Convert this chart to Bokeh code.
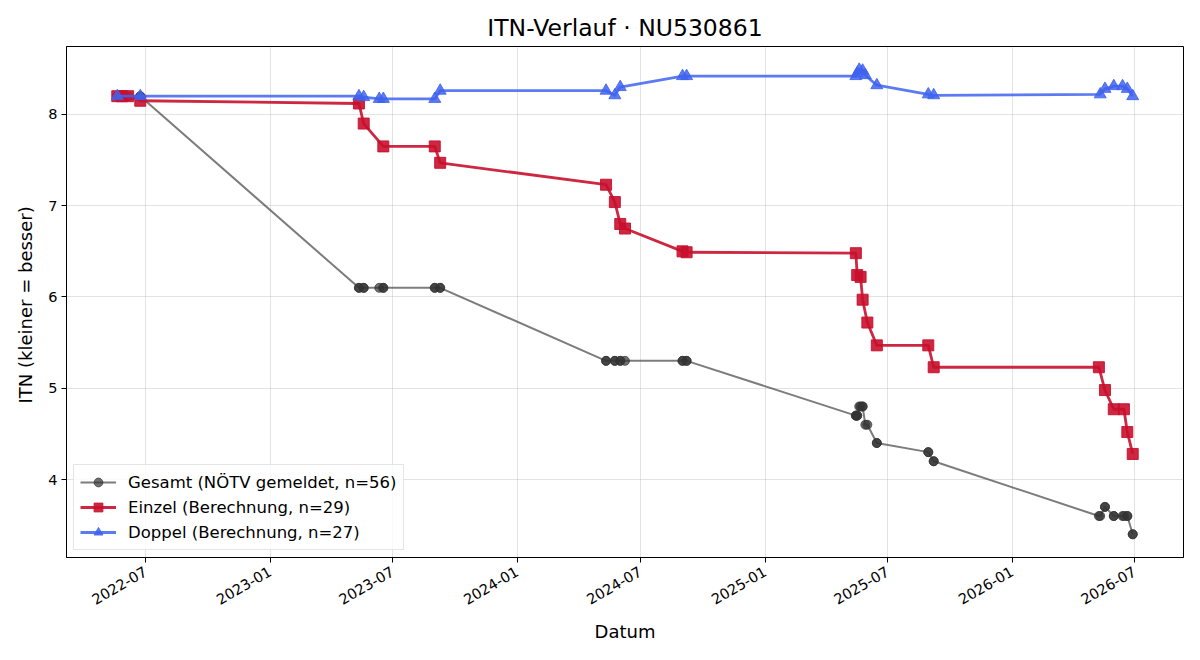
import numpy as np
import pandas as pd
from bokeh.plotting import figure
from bokeh.models import (Range1d, FixedTicker, Legend, LegendItem,
                          ColumnDataSource, DatetimeTickFormatter)
from bokeh.embed import file_html
from bokeh.resources import INLINE

# --- ITN history per match -------------------------------------------------
einzel_dates = [
    "2022-05-20", "2022-05-27", "2022-06-05", "2022-06-23",
    "2023-05-12", "2023-05-19", "2023-06-17", "2023-09-01", "2023-09-09",
    "2024-05-11", "2024-05-24", "2024-06-01", "2024-06-08", "2024-09-01", "2024-09-07",
    "2025-05-15", "2025-05-17", "2025-05-22", "2025-05-25", "2025-06-01",
    "2025-06-15", "2025-08-30", "2025-09-07",
    "2026-05-09", "2026-05-18", "2026-05-31", "2026-06-15", "2026-06-20", "2026-06-28",
]
einzel_itn = [
    8.20, 8.20, 8.20, 8.15,
    8.12, 7.90, 7.65, 7.65, 7.47,
    7.23, 7.04, 6.80, 6.75, 6.50, 6.49,
    6.48, 6.24, 6.22, 5.97, 5.72,
    5.47, 5.47, 5.23,
    5.23, 4.98, 4.77, 4.77, 4.52, 4.28,
]

doppel_dates = [
    "2022-05-20", "2022-06-23",
    "2023-05-12", "2023-05-19", "2023-06-11", "2023-06-17", "2023-09-01", "2023-09-09",
    "2024-05-11", "2024-05-24", "2024-06-01", "2024-09-01", "2024-09-07",
    "2025-05-15", "2025-05-17", "2025-05-20", "2025-05-25", "2025-05-29",
    "2025-06-15", "2025-08-30", "2025-09-07",
    "2026-05-11", "2026-05-18", "2026-05-31", "2026-06-13", "2026-06-20", "2026-06-28",
]
doppel_itn = [
    8.20, 8.20,
    8.20, 8.19, 8.17, 8.17, 8.17, 8.26,
    8.26, 8.21, 8.30, 8.42, 8.42,
    8.42, 8.45, 8.49, 8.48, 8.43,
    8.32, 8.22, 8.21,
    8.22, 8.28, 8.31, 8.31, 8.28, 8.20,
]

gesamt_dates = [
    "2022-05-20", "2022-05-20", "2022-05-27", "2022-06-05", "2022-06-23", "2022-06-23",
    "2023-05-12", "2023-05-12", "2023-05-19", "2023-05-19", "2023-06-11",
    "2023-06-17", "2023-06-17", "2023-09-01", "2023-09-01", "2023-09-09", "2023-09-09",
    "2024-05-11", "2024-05-11", "2024-05-24", "2024-05-24", "2024-06-01", "2024-06-01",
    "2024-06-08", "2024-09-01", "2024-09-01", "2024-09-07", "2024-09-07",
    "2025-05-15", "2025-05-15", "2025-05-17", "2025-05-17", "2025-05-20", "2025-05-22",
    "2025-05-25", "2025-05-25", "2025-05-29", "2025-06-01", "2025-06-15", "2025-06-15",
    "2025-08-30", "2025-08-30", "2025-09-07", "2025-09-07",
    "2026-05-09", "2026-05-11", "2026-05-18", "2026-05-18", "2026-05-31", "2026-05-31",
    "2026-06-13", "2026-06-15", "2026-06-20", "2026-06-20", "2026-06-28", "2026-06-28",
]
gesamt_itn = [
    8.2, 8.2, 8.2, 8.2, 8.2, 8.2,
    6.1, 6.1, 6.1, 6.1, 6.1,
    6.1, 6.1, 6.1, 6.1, 6.1, 6.1,
    5.3, 5.3, 5.3, 5.3, 5.3, 5.3,
    5.3, 5.3, 5.3, 5.3, 5.3,
    4.7, 4.7, 4.7, 4.7, 4.8, 4.8,
    4.8, 4.8, 4.6, 4.6, 4.4, 4.4,
    4.3, 4.3, 4.2, 4.2,
    3.6, 3.6, 3.7, 3.7, 3.6, 3.6,
    3.6, 3.6, 3.6, 3.6, 3.4, 3.4,
]

x_tick_labels = ["2022-07", "2023-01", "2023-07", "2024-01", "2024-07",
                 "2025-01", "2025-07", "2026-01", "2026-07"]
y_ticks = [4, 5, 6, 7, 8]

series_labels = ["Gesamt (NÖTV gemeldet, n=56)",
                 "Einzel (Berechnung, n=29)",
                 "Doppel (Berechnung, n=27)"]

FONT = "DejaVu Sans"
TICK = "14.5px"
LABEL = "18px"
LEGEND = "16.5px"

RED = "#c8102e"
BLUE = "#3f63ee"
GREY = "#444444"

g_src = ColumnDataSource(dict(x=pd.to_datetime(gesamt_dates), y=gesamt_itn))
e_src = ColumnDataSource(dict(x=pd.to_datetime(einzel_dates), y=einzel_itn))
d_src = ColumnDataSource(dict(x=pd.to_datetime(doppel_dates), y=doppel_itn))

# axis limits with 5 % padding around the data
all_x = pd.to_datetime(gesamt_dates + einzel_dates + doppel_dates)
all_y = np.array(gesamt_itn + einzel_itn + doppel_itn)
xmin, xmax = all_x.min(), all_x.max()
xpad = (xmax - xmin) * 0.05
ypad = (all_y.max() - all_y.min()) * 0.05

p = figure(width=1200, height=660, x_axis_type="datetime",
           output_backend="svg", toolbar_location=None,
           x_range=Range1d(xmin - xpad, xmax + xpad),
           y_range=Range1d(all_y.min() - ypad, all_y.max() + ypad),
           min_border_left=66, min_border_right=17,
           min_border_top=46, min_border_bottom=103)

p.title.text = "ITN-Verlauf · NU530861"
p.title.align = "center"
p.title.text_font = FONT
p.title.text_font_size = "23.5px"
p.title.text_font_style = "normal"
p.title.text_color = "black"
p.title.standoff = 9

p.outline_line_color = "black"
p.outline_line_width = 1
p.outline_line_alpha = 1

# grid
for g in (p.xgrid, p.ygrid):
    g.grid_line_color = "#b0b0b0"
    g.grid_line_alpha = 0.35
    g.grid_line_width = 1

# axes
tick_ms = [pd.Timestamp(t + "-01").value // 10**6 for t in x_tick_labels]
p.xaxis.ticker = FixedTicker(ticks=tick_ms)
fmt = "%Y-%m"
p.xaxis.formatter = DatetimeTickFormatter(
    milliseconds=fmt, seconds=fmt, minsec=fmt, minutes=fmt, hourmin=fmt,
    hours=fmt, days=fmt, months=fmt, years=fmt)
p.xaxis.major_label_orientation = np.pi / 6
p.yaxis.ticker = FixedTicker(ticks=y_ticks)

for ax in (p.xaxis[0], p.yaxis[0]):
    ax.axis_line_color = "black"
    ax.major_tick_line_color = "black"
    ax.major_tick_out = 5
    ax.major_tick_in = 0
    ax.minor_tick_line_color = None
    ax.major_label_text_font = FONT
    ax.major_label_text_font_size = TICK
    ax.major_label_text_color = "black"
    ax.major_label_standoff = 4
    ax.axis_label_text_font = FONT
    ax.axis_label_text_font_size = LABEL
    ax.axis_label_text_font_style = "normal"
    ax.axis_label_text_color = "black"

p.xaxis.major_label_standoff = 8
p.xaxis.axis_label = "Datum"
p.yaxis.axis_label = "ITN  (kleiner = besser)"
p.xaxis.axis_label_standoff = 9
p.yaxis.axis_label_standoff = 9

# series
g_line = p.line("x", "y", source=g_src, line_color=GREY, line_alpha=0.7,
                line_width=2, line_join="round")
g_pts = p.scatter("x", "y", source=g_src, marker="circle", size=9,
                  fill_color="#333333", fill_alpha=0.7,
                  line_color="#333333", line_alpha=0.7)

e_line = p.line("x", "y", source=e_src, line_color=RED, line_alpha=0.9,
                line_width=2.8, line_join="round")
e_pts = p.scatter("x", "y", source=e_src, marker="square", size=11,
                  fill_color=RED, fill_alpha=0.9,
                  line_color=RED, line_alpha=0.9)

d_line = p.line("x", "y", source=d_src, line_color=BLUE, line_alpha=0.85,
                line_width=2.8, line_join="round")
d_pts = p.scatter("x", "y", source=d_src, marker="triangle", size=12,
                  fill_color=BLUE, fill_alpha=0.85,
                  line_color=BLUE, line_alpha=0.85)

legend = Legend(items=[
    LegendItem(label=series_labels[0], renderers=[g_line, g_pts]),
    LegendItem(label=series_labels[1], renderers=[e_line, e_pts]),
    LegendItem(label=series_labels[2], renderers=[d_line, d_pts]),
], location="bottom_left")
legend.label_text_font = FONT
legend.label_text_font_size = LEGEND
legend.label_text_color = "black"
legend.glyph_width = 36
legend.glyph_height = 22
legend.label_height = 22
legend.spacing = 3
legend.padding = 6
legend.margin = 7
legend.label_standoff = 12
legend.border_line_color = "#cccccc"
legend.border_line_width = 1
legend.background_fill_alpha = 0.8
p.add_layout(legend)

p.background_fill_color = "white"
p.border_fill_color = "white"

open("out.html", "w").write(file_html(p, INLINE))
